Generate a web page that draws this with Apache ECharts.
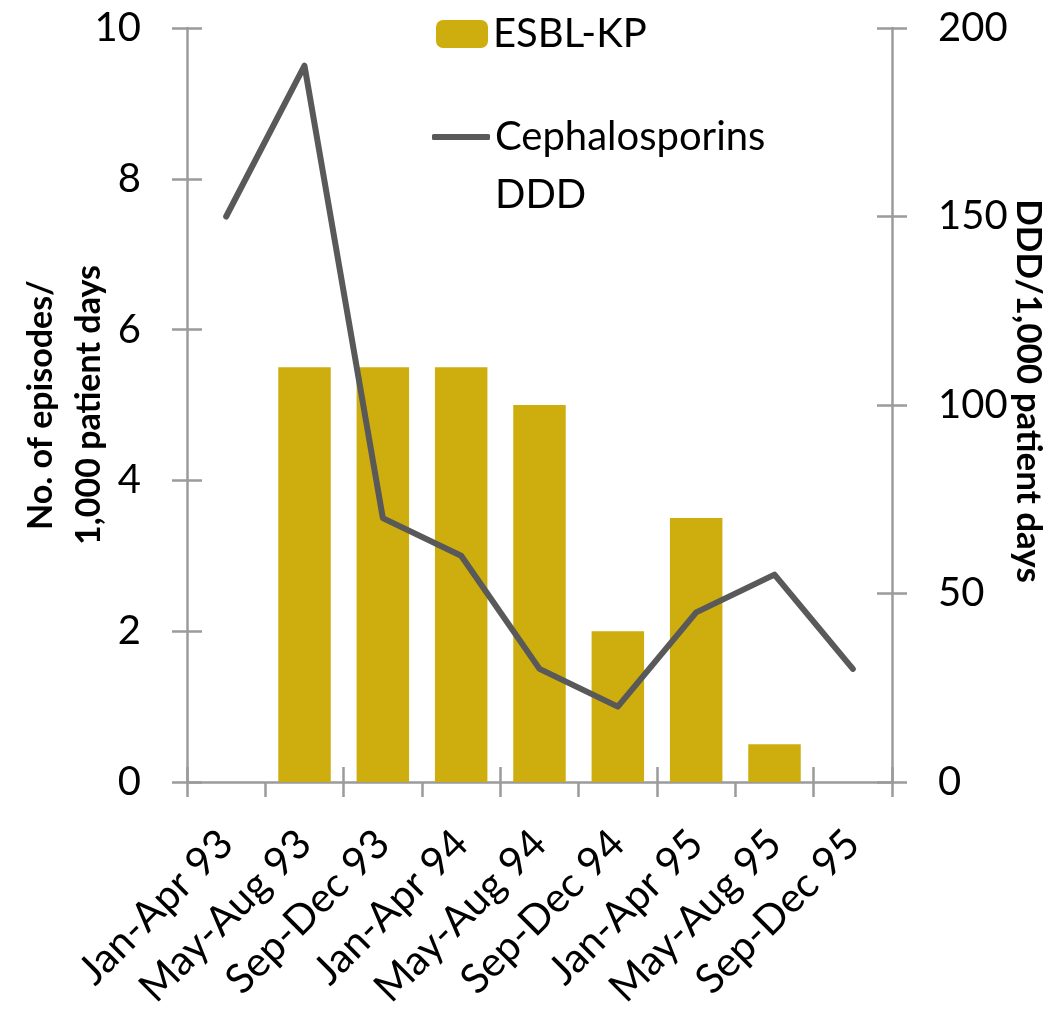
<!DOCTYPE html>
<html>
<head>
<meta charset="utf-8">
<title>ESBL-KP episodes and cephalosporin use</title>
<script src="https://cdn.jsdelivr.net/npm/echarts@6/dist/echarts.min.js"></script>
<style>
  html, body { margin: 0; padding: 0; background: #ffffff; }
  #chart { width: 1050px; height: 1013px; }
</style>
</head>
<body>
<div id="chart"></div>
<script>
// Four-month periods, 1993-1995
const periods = ['Jan-Apr 93', 'May-Aug 93', 'Sep-Dec 93', 'Jan-Apr 94', 'May-Aug 94',
                 'Sep-Dec 94', 'Jan-Apr 95', 'May-Aug 95', 'Sep-Dec 95'];
// ESBL-KP episodes per 1,000 patient days (left axis)
const esblEpisodes = [0, 5.5, 5.5, 5.5, 5.0, 2.0, 3.5, 0.5, 0];
// Cephalosporin DDD per 1,000 patient days (right axis)
const cephDDD = [150, 190, 70, 60, 30, 20, 45, 55, 30];

const leftTicks = { min: 0, max: 10, interval: 2 };
const rightTicks = { min: 0, max: 200, interval: 50 };

const FONT = 'Lato';
const AXIS_GREY = '#9b9b9b';
const BAR_GOLD = '#cdae0e';
const LINE_GREY = '#595959';

const axisLineStyle = { show: true, lineStyle: { color: AXIS_GREY, width: 2.5 } };

// A plain copy of an axis whose only job is the inward half of each tick,
// so that ticks cross the axis line.
function innerTickAxis(base) {
  return Object.assign({}, base, {
    name: '',
    axisLine: { show: false },
    axisLabel: { show: false },
    splitLine: { show: false },
    axisTick: { show: true, inside: true, length: 15, lineStyle: { color: AXIS_GREY, width: 2.5 } }
  });
}

const xBase = {
  type: 'category',
  data: periods,
  position: 'bottom',
  boundaryGap: true,
  axisLine: axisLineStyle,
  axisTick: { show: true, inside: false, length: 15, lineStyle: { color: AXIS_GREY, width: 2.5 } },
  axisLabel: {
    rotate: 45,
    margin: 55,
    fontFamily: FONT,
    fontSize: 41,
    color: '#000000'
  },
  splitLine: { show: false }
};

const yLeft = {
  type: 'value',
  position: 'left',
  min: leftTicks.min,
  max: leftTicks.max,
  interval: leftTicks.interval,
  name: 'No. of episodes/\n1,000 patient days',
  nameLocation: 'middle',
  nameRotate: 90,
  nameGap: 74,
  nameMoveOverlap: false,
  nameTextStyle: {
    fontFamily: FONT, fontWeight: 'bold', fontSize: 34, lineHeight: 48, color: '#000000'
  },
  axisLine: axisLineStyle,
  axisTick: { show: true, inside: false, length: 15, lineStyle: { color: AXIS_GREY, width: 2.5 } },
  axisLabel: { margin: 46, fontFamily: FONT, fontSize: 40, color: '#000000' },
  splitLine: { show: false }
};

const yRight = {
  type: 'value',
  position: 'right',
  min: rightTicks.min,
  max: rightTicks.max,
  interval: rightTicks.interval,
  name: 'DDD/1,000 patient days',
  nameLocation: 'middle',
  nameRotate: -90,
  nameGap: 119,
  nameMoveOverlap: false,
  nameTextStyle: {
    fontFamily: FONT, fontWeight: 'bold', fontSize: 35, lineHeight: 35,
    color: '#000000', padding: [0, 28, 0, 0]
  },
  axisLine: axisLineStyle,
  axisTick: { show: true, inside: false, length: 15, lineStyle: { color: AXIS_GREY, width: 2.5 } },
  axisLabel: { margin: 46, fontFamily: FONT, fontSize: 40, color: '#000000' },
  splitLine: { show: false }
};

const chart = echarts.init(document.getElementById('chart'), null, { renderer: 'canvas' });

chart.setOption({
  animation: false,
  backgroundColor: '#ffffff',
  grid: {
    left: 187, right: 158, top: 28, bottom: 231,
    containLabel: false,
    outerBoundsMode: 'none'
  },
  legend: [
    {
      data: ['ESBL-KP'],
      orient: 'vertical',
      left: 436,
      top: 14,
      padding: 0,
      itemWidth: 52,
      itemHeight: 28,
      textStyle: { fontFamily: FONT, fontSize: 40, lineHeight: 40, color: '#000000' }
    },
    {
      // the label is three lines (first one blank) so the icon sits beside "Cephalosporins"
      data: [{ name: 'Cephalosporins DDD', icon: 'roundRect' }],
      orient: 'vertical',
      left: 432,
      top: 50,
      padding: 0,
      itemWidth: 58,
      itemHeight: 6,
      itemStyle: { color: LINE_GREY, borderWidth: 0 },
      formatter: function () { return '{t| }\n{t|Cephalosporins}\n{t|DDD}'; },
      textStyle: {
        fontFamily: FONT, fontSize: 40, lineHeight: 58, color: '#000000',
        rich: { t: { fontFamily: FONT, fontSize: 40, lineHeight: 58, color: '#000000' } }
      }
    }
  ],
  xAxis: [xBase, innerTickAxis(xBase)],
  yAxis: [yLeft, innerTickAxis(yLeft), yRight, innerTickAxis(yRight)],
  series: [
    {
      name: 'ESBL-KP',
      type: 'bar',
      xAxisIndex: 0,
      yAxisIndex: 0,
      data: esblEpisodes,
      barCategoryGap: '33%',
      itemStyle: { color: BAR_GOLD },
      z: 2
    },
    {
      name: 'Cephalosporins DDD',
      type: 'line',
      xAxisIndex: 0,
      yAxisIndex: 2,
      data: cephDDD,
      symbol: 'none',
      lineStyle: { color: LINE_GREY, width: 6, cap: 'round', join: 'round' },
      itemStyle: { color: LINE_GREY },
      z: 3
    }
  ]
});
</script>
</body>
</html>
